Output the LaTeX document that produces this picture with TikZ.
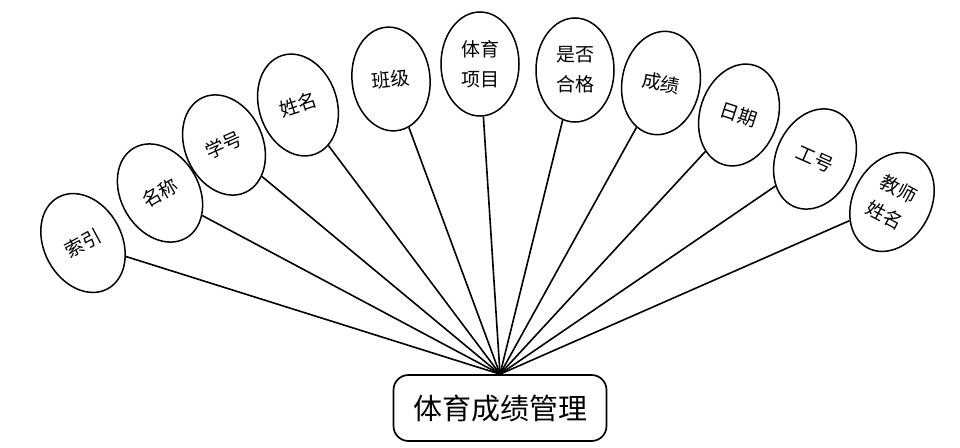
\documentclass[tikz,border=0pt]{standalone}
\usepackage{fontspec}
\newfontfamily\cjk{Noto Sans CJK SC}
\usetikzlibrary{shapes,positioning,calc}

\begin{document}
\begin{tikzpicture}[x=1pt,y=-1pt,
    attr/.style={draw, ellipse, line width=1.5pt, minimum width=78pt, minimum height=104pt,
                 inner sep=0pt, align=center, font=\cjk\fontsize{19}{30}\selectfont},
    entity/.style={draw, rectangle, rounded corners=15pt, line width=1.7pt,
                   minimum width=213pt, minimum height=66pt, font=\cjk\fontsize{29}{34}\selectfont},
    link/.style={line width=1.6pt}]
            \useasboundingbox (0,0) rectangle (960,447);

            \node[entity] (M) at (500,408) {体育成绩管理};

            \node[attr, rotate=28] (A1) at (83,243) {索引};
            \node[attr, rotate=30] (A2) at (160,193) {名称};
            \node[attr, rotate=24] (A3) at (224,145) {学号};
            \node[attr, rotate=18] (A4) at (298,105) {姓名};
            \node[attr, rotate=6] (A5) at (391,79) {班级};
            \node[attr] (A6) at (480,64) {体育\\项目};
            \node[attr] (A7) at (575,70) {是否\\合格};
            \node[attr, rotate=-10] (A8) at (661,83) {成绩};
            \node[attr, rotate=-18] (A9) at (739,115) {日期};
            \node[attr, rotate=-24] (A10) at (815,159) {工号};
            \node[attr, rotate=-28] (A11) at (892,202) {教师\\姓名};

            \foreach \i in {1,...,11}
                \draw[link] (M.north) -- (A\i);
        \end{tikzpicture}
\end{document}
